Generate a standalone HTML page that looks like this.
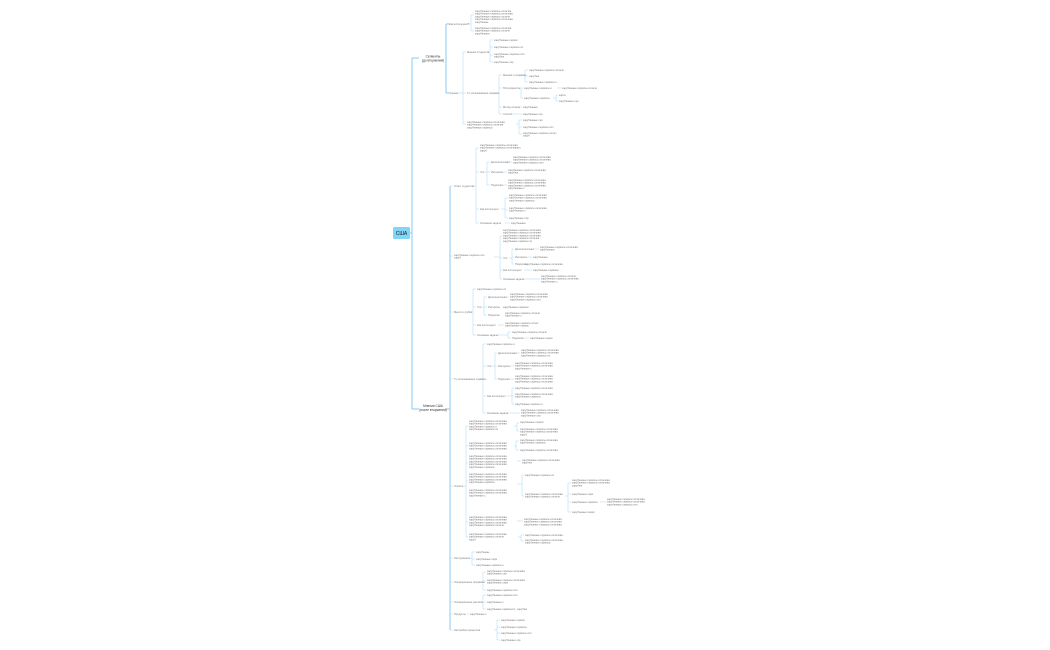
<!DOCTYPE html>
<html><head><meta charset="utf-8">
<style>
html,body{margin:0;padding:0;background:#fff;width:1050px;height:650px;overflow:hidden}
svg{display:block}
text{font-family:"Liberation Sans","DejaVu Sans",sans-serif;font-size:2.6px;fill:#7a7a7a}
</style></head><body>
<svg id="s" width="1050" height="650" viewBox="0 0 1050 650" xmlns="http://www.w3.org/2000/svg">
<g id="L" fill="none" stroke="#aedbf7" stroke-width="0.55"></g>
<g id="M" fill="none" stroke="#7cc6f2" stroke-width="0.9"></g>
<rect x="393" y="227" width="17" height="12" rx="1.5" fill="#7fd6f6"/>
<text x="401.5" y="234.8" text-anchor="middle" style="font-size:5px;fill:#222">США</text>
<text x="433" y="57.5" text-anchor="middle" style="font-size:3.2px;fill:#333">Сегменты</text>
<text x="433" y="61.5" text-anchor="middle" style="font-size:3.2px;fill:#333">(до вторжения)</text>
<text x="433" y="407" text-anchor="middle" style="font-size:3.2px;fill:#333">Мнения США</text>
<text x="433" y="411" text-anchor="middle" style="font-size:3.2px;fill:#333">(после вторжения)</text>
<g id="T"></g>
</svg>
<script>
var NS="http://www.w3.org/2000/svg";
function ln(g,d){var p=document.createElementNS(NS,"path");p.setAttribute("d",d);document.getElementById(g).appendChild(p);}
function br(px,py,bx,cx,ys,g){g=g||"L";var a=Math.min.apply(0,ys),b=Math.max.apply(0,ys);
 ln(g,"M"+px+" "+py+"H"+bx);ln(g,"M"+bx+" "+a+"V"+b);ys.forEach(function(y){ln(g,"M"+bx+" "+y+"H"+cx)});}
function t(x,y,s,n){n=n||1;var arr=Array.isArray(s)?s:[s];for(var i=0;i<n;i++){var e=document.createElementNS(NS,"text");e.setAttribute("x",x);e.setAttribute("y",y+1+i*2.7);e.textContent=arr[i%arr.length];document.getElementById("T").appendChild(e);}}
var W="зарубежные сервисы оплачивают подписку через карту банка";
function w(n){return W.slice(0,Math.max(3,Math.round(n*0.62)))}
ln("M","M410 233H412");ln("M","M412 58V409");ln("M","M412 58H419");ln("M","M412 409H419");
br(446,59,446,449,[24,93],"M");
t(449,24,"Как используют?");
br(466,24,471,474,[15,31]);
t(475,11,[w(42),w(44),w(40),w(43),w(14)],5);
t(475,28,[w(42),w(40),w(18)],3);
t(449,93,"Оценка");
br(458,93,463,466,[52,93,124]);
t(467,52,"Мнения студентов");
br(487,52,490,493,[40,47,55,62]);
t(494,40,w(28));t(494,47,w(34));t(494,54,[w(36),w(12)],2);t(494,62,w(22));
t(467,93,"Ту оплачиваемые сервисы");
br(495,93,499,502,[75,88,107,114]);
t(503,75,"Мнения о сервисах");
br(521,75,525,528,[70,76,82]);
t(529,70,w(40));t(529,76,w(12));t(529,82,w(32));
t(503,88,"Популярность");
br(518,88,521,523,[88,98]);
t(524,88,w(32));ln("L","M557 88H561");t(562,88,w(40));
t(524,98,w(30));br(553,98,556,558,[95,101]);t(559,95,"карта");t(559,101,w(22));
t(503,107,"Метод оплаты");ln("L","M518 107H522");t(523,107,w(18));
t(503,114,"Способ");ln("L","M512 114H522");t(523,114,w(22));
t(467,122,[w(44),w(42),w(30)],3);
br(516,124,519,522,[120,127,134]);
t(523,120,w(22));t(523,127,w(36));t(523,133,[w(38),w(8)],2);
ln("M","M445 409H450");ln("M","M450 186V630");
function c(y){ln("L","M450 "+y+"H453")}
c(186);t(454,186,"Ответ студентов");
br(472,186,476,479,[148,172,209,223]);
t(480,145,[w(44),w(46),w(8)],3);
t(480,172,"Что");
br(485,172,487,490,[162,172,185]);
t(491,162,"Дополнительно");t(513,157,[w(44),w(44),w(36)],3);ln("L","M505 162H512");
t(491,172,"Интересы");t(508,170,[w(44),w(12)],2);ln("L","M502 172H507");
t(491,185,"Подписка");t(508,180,[w(44),w(44),w(44),w(20)],4);ln("L","M502 185H507");
t(480,209,"Как используют");
br(501,209,505,508,[198,210,218]);
t(509,195,[w(44),w(44),w(30)],3);t(509,208,[w(44),w(20)],2);t(509,218,w(22));
t(480,223,"Основная задача");ln("L","M505 223H510");t(511,223,w(16));
c(256);t(454,255,[w(36),w(8)],2);
br(494,257,500,502,[236,258,270,279]);
t(503,230,[w(44),w(44),w(44),w(42),w(34)],5);
t(503,258,"Что");
br(509,258,512,514,[249,257,264]);
t(515,249,"Дополнительно");t(540,247,[w(44),w(18)],2);ln("L","M531 249H539");
t(515,257,"Интересы");t(533,257,w(18));ln("L","M527 257H532");
t(515,264,"Подписка");t(525,264,w(44));
t(503,270,"Как используют");ln("L","M524 270H532");t(533,270,w(30));
t(503,279,"Основная задача");br(524,279,537,540,[279]);t(541,276,[w(40),w(44),w(20)],3);
c(312);t(454,312,"Мысли о рубле");
br(469,312,473,476,[289,307,325,335]);
t(477,289,w(34));
t(477,307,"Что");
br(482,307,484,487,[297,307,315]);
t(488,297,"Дополнительно");t(510,294,[w(44),w(44),w(36)],3);ln("L","M504 297H509");
t(488,307,"Интересы");t(503,307,w(30));
t(488,315,"Подписка");t(505,313,[w(40),w(20)],2);
t(477,325,"Как используют");t(505,323,[w(38),w(28)],2);ln("L","M498 325H504");
t(477,335,"Основная задача");br(498,335,508,511,[332,338]);
t(512,332,w(40));t(512,338,"Подписка");ln("L","M524 338H529");t(530,338,w(26));
c(379);t(454,379,"Ту оплачиваемые сервисы");
br(480,379,483,486,[344,366,396,413]);
t(487,344,w(32));
t(487,366,"Что");
br(492,366,495,497,[353,366,379]);
t(498,353,"Дополнительно");t(521,350,[w(44),w(44),w(34)],3);ln("L","M513 353H520");
t(498,366,"Интересы");t(515,363,[w(44),w(44),w(20)],3);ln("L","M510 366H514");
t(498,379,"Подписка");t(515,376,[w(44),w(44),w(44)],3);ln("L","M510 379H514");
t(487,396,"Как используют");br(507,396,512,514,[388,396,404]);
t(515,388,w(44));t(515,394,[w(44),w(30)],2);t(515,404,w(32));
t(487,413,"Основная задача");ln("L","M507 413H520");t(521,410,[w(44),w(44),w(22)],3);
c(486);t(454,486,"Оплата");
br(463,486,466,468,[426,446,463,481,522,537]);
t(469,421,[w(44),w(44),w(32),w(34)],4);br(514,426,517,519,[423,431]);t(520,422,w(28));t(520,429,[w(44),w(44),w(8)],3);
t(469,443,[w(44),w(44),w(44)],3);br(514,446,516,519,[441,450]);t(520,440,[w(44),w(30)],2);t(520,450,w(44));
t(469,456,[w(44),w(44),w(44),w(44),w(30)],5);ln("L","M517 461H521");t(522,460,[w(44),w(12)],2);
t(469,474,[w(44),w(44),w(44),w(30)],4);t(469,490,[w(44),w(44),w(20)],3);
br(517,484,522,524,[475,496]);t(525,475,w(34));t(525,494,[w(44),w(40)],2);
br(565,496,568,571,[483,494,502,512]);
t(572,480,[w(44),w(44),w(12)],3);t(572,494,w(24));t(572,502,w(30));t(572,512,w(26));
ln("L","M600 502H606");t(607,499,[w(44),w(44),w(36)],3);
t(469,517,[w(44),w(44),w(44),w(40)],4);ln("L","M517 521H523");t(524,519,[w(44),w(44),w(44)],3);
t(469,534,[w(44),w(40),w(8)],3);br(518,537,521,524,[535,541]);t(525,535,w(44));t(525,540,[w(44),w(30)],2);
c(558);t(454,558,"Инструменты");br(469,558,472,475,[552,559,565]);
t(476,552,w(14));t(476,559,w(24));t(476,565,w(32));
c(582);t(454,582,"Операционные процессы");br(479,582,483,486,[572,581,590]);
t(487,571,[w(44),w(22)],2);t(487,580,[w(44),w(24)],2);t(487,590,w(36));
c(602);t(454,602,"Операционные расчеты");br(479,602,483,486,[595,602,609]);
t(487,595,w(36));t(487,602,w(20));t(487,609,w(32));ln("L","M512 609H516");t(517,609,w(12));
c(614);t(454,614,"Продукты");ln("L","M467 614H469");t(470,614,w(20));
c(630);t(454,630,"Настройка процессов");br(494,630,497,500,[620,627,633,640]);
t(501,620,w(28));t(501,627,w(30));t(501,633,w(36));t(501,640,w(22));
</script>
</body></html>
